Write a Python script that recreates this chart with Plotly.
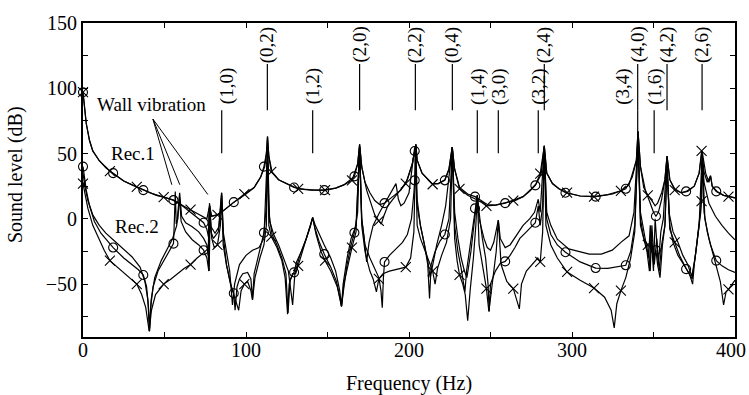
import plotly.graph_objects as go

# ---------------- data (frequency Hz, sound level dB) ----------------
REC1_CIRCLE = [
    (0, 97), (1, 84), (2, 73), (4, 60), (6, 52), (10, 44.5), (14, 39), (18.5, 35), (25, 29), (30, 26),
    (37, 22), (45, 18), (50, 16.5), (55.5, 14.3), (60, 11), (66, 5), (70, 1), (74, -3), (76, -8), (77, -14),
    (77.6, 12), (78.5, 2), (82, 3), (85, 5), (88, 8), (92.5, 12.8), (100, 19), (105, 24), (109, 32), (111, 40),
    (112.5, 50), (113.2, 63), (114, 48), (116, 36), (120, 30), (125, 27), (129.5, 24), (137, 22.5), (142, 22),
    (148, 22), (155, 23.5), (160, 26), (166.5, 32.5), (168.5, 42), (169.7, 57), (171, 40), (173, 28), (176, 20),
    (179, 14), (182, 11), (185, 12), (190, 17), (195, 22), (199, 30), (202, 42), (203.5, 52), (204.2, 57),
    (205, 45), (208, 35), (214, 27), (218, 27), (222, 29.5), (224.5, 38), (226.5, 55), (228, 38), (231, 24),
    (236, 19), (240.5, 17), (244, 14), (248, 11), (253, 10.5), (259, 12), (265, 14), (270, 17), (274, 21),
    (277.5, 25.6), (281, 34), (283, 56), (284.5, 35), (288, 27), (292, 23), (296, 20), (305, 17.5), (314.5, 17),
    (325, 19), (333, 23), (337, 32), (339.5, 45), (340.5, 67), (342, 40), (345, 22), (348, 12), (350, 5),
    (351.5, 2), (353, 5), (355, 15), (357, 30), (358.3, 48), (360, 30), (363, 23), (367, 20), (370, 21),
    (375, 25), (378, 35), (379.8, 52), (382, 35), (384, 28), (385, 33), (386, 25), (388.5, 21), (393, 18),
    (397, 17), (400, 16),
]

REC1_CROSS = [
    (0, 97), (1, 84), (2, 73), (4, 60), (6, 52), (10, 44.5), (16.5, 36.5), (25, 29), (33, 24.5), (41, 20),
    (49.5, 16.6), (55, 14.5), (60, 11), (66, 7), (72, 3), (76, 0), (77.6, 10), (79, 2), (82.5, 3), (88, 8),
    (93, 13), (99, 19), (105, 24), (109, 32), (111.5, 40), (112.5, 50), (113.2, 63), (114, 48), (115.5, 36),
    (120, 30), (125, 27), (132, 23), (140, 22), (148.5, 22), (155, 23.5), (160, 26), (165, 29.5), (168.5, 42),
    (169.7, 57), (171, 40), (174, 22), (177, 10), (179, 3), (181.5, -1.5), (183, -4), (184.5, 2), (187, 10),
    (192, 18), (198, 27), (202, 42), (203.5, 52), (204.2, 57), (205, 45), (208, 35), (214.5, 26.5), (218, 27),
    (222, 30), (224.5, 38), (226.5, 55), (228, 38), (231, 23), (236, 18), (241, 15), (244, 13), (247.5, 10),
    (253, 10.5), (259, 12), (264, 14), (270, 17), (275, 23), (278, 27), (280.5, 34.7), (283, 56), (284.5, 35),
    (288, 27), (292, 23), (297, 20), (305, 17.5), (313.5, 17), (322, 18.5), (330, 21.5), (335, 26),
    (339.5, 45), (340.5, 67), (342, 40), (344, 24), (346.5, 18), (349, 14), (351, 10), (352.5, 12), (355, 20),
    (357, 30), (358.3, 48), (360, 30), (363, 22), (367, 20), (371, 21), (375, 25), (378, 35), (379.5, 52),
    (381, 36), (383, 28), (385, 33), (386, 25), (389, 21), (393, 18), (396, 17), (400, 16),
]

REC2_CIRCLE = [
    (0, 40), (1, 30), (2, 22), (4, 10), (7, -2), (11, -11), (14.5, -16), (18.5, -22), (25, -30), (30, -35),
    (34, -39), (37, -43), (39, -52), (40.2, -68), (40.8, -86), (41.5, -68), (43, -52), (46, -40), (50, -31),
    (53, -25), (55.5, -19), (56.1, 0), (56.6, 21), (57.2, -4), (58.2, 0), (59.2, 17), (60.2, -2), (63, -10),
    (67, -16), (71, -20), (74, -24), (76, -30), (77.2, -40), (77.8, 10), (78.5, -6), (81, -11), (83.5, -6),
    (85.1, 20), (86.2, -15), (88, -35), (90.5, -50), (92.5, -57), (93.3, -70), (94.5, -52), (96, -46),
    (98, -42), (101, -41), (103, -46), (104, -62), (105, -42), (108, -26), (111, -10.6), (112.5, 10),
    (113.2, 55), (114, 5), (116, -12), (119, -20), (122, -30), (124.5, -42), (125.8, -72), (127, -47),
    (129.5, -41), (131, -33), (134, -25), (137, -15), (139.5, -6), (140.9, 1), (142.5, -8), (145, -18),
    (148, -27), (152, -37), (155.5, -48), (157.5, -60), (158.6, -67), (159.8, -55), (162, -35), (164.5, -20),
    (166.5, -10.6), (168.5, 5), (169.7, 55), (171, 0), (173, -20), (176, -30), (179, -38), (181.5, -45),
    (182.8, -55), (183.6, -68), (184.3, -45), (185, -33), (188, -28), (192, -23), (196, -18), (199, -12),
    (201.5, 0), (203, 20), (203.5, 29.5), (204.2, 57), (205, 15), (207, -5), (209.5, -20), (211.5, -35),
    (212.6, -61), (213.6, -35), (216, -25), (219, -17), (222, -12), (224.5, 0), (226.6, 55), (228, -5),
    (230, -25), (232, -38), (233.5, -50), (234.3, -56), (235.3, -40), (237.5, -20), (239.5, 0), (240.5, 8),
    (241.9, 18), (243, 5), (245, -15), (247, -30), (248.5, -50), (249.2, -71), (250, -50), (253, -40),
    (256, -34), (259, -32.6), (262, -28), (265, -22), (268, -15), (272, -10), (275, -6), (277.5, -3),
    (279.3, 10), (280.5, -5), (282, 10), (283, 55), (284.5, 0), (287, -12), (291, -20), (296, -25.6),
    (305, -33), (314.5, -37.7), (322, -38), (328, -37), (333, -35.6), (336, -25), (338.5, -5), (340.5, 60),
    (342, 0), (344, -15), (346, -25), (347.5, -40), (348.5, -10), (350, -30), (351.5, -24), (352.5, -35),
    (354, -45), (355.5, -20), (357, -5), (358.3, 40), (360, -5), (362, -18), (365, -28), (368, -34),
    (370, -38.5), (372, -42), (374, -50), (375, -35), (377, -15), (379, 5), (379.8, 45), (381, 5), (383, -10),
    (385, -20), (388.5, -32), (392, -36), (396, -39), (400, -41),
]

REC2_CROSS = [
    (0, 27), (1, 20), (3, 8), (6, -5), (10, -16), (13, -24), (16.5, -32), (22, -38), (27, -43), (33, -50),
    (36, -58), (38.5, -68), (40.6, -86), (42, -70), (44.5, -58), (49.5, -50), (54, -46), (58, -42), (62, -38),
    (66, -35), (70, -30), (74, -26), (76.6, -23), (77.4, -40), (78, 5), (79, -15), (80.5, -22), (82.5, -20),
    (84.3, -5), (85.1, 18), (86, -20), (88, -35), (91, -52), (93, -60), (95.5, -70), (97, -55), (99, -50),
    (101, -48), (103, -55), (104, -62), (105.5, -45), (108.5, -30), (111, -20), (112.5, -5), (113.2, 55),
    (114, -5), (115.5, -13.6), (119, -22), (122, -32), (124, -45), (125.5, -73), (126.5, -50), (128.5, -42),
    (130.5, -42), (132, -36), (135, -24), (138.5, -10), (140.9, 1), (143, -12), (146, -25), (148.5, -32),
    (152, -40), (156, -52), (158.6, -67), (160, -50), (162.5, -35), (165, -22), (167.5, -10), (169.7, 55),
    (171, -5), (173, -25), (174.5, -33), (176, -40), (178, -46), (180, -56), (181.5, -46), (184, -42),
    (188, -40), (192, -39), (195, -38), (198, -37), (201, -30), (203, -10), (204, 50), (205, -5), (207, -15),
    (210, -25), (213, -35), (214.5, -40), (216, -50), (217.5, -38), (220, -28), (223, -18), (225.5, 0),
    (226.6, 55), (228, -15), (229.5, -32), (231, -43), (233, -50), (234.5, -58), (236, -78), (237.5, -55),
    (239.5, -30), (241, -5), (241.9, 18), (243, -20), (245.5, -40), (247.5, -53.5), (249, -71), (251, -50),
    (253.5, -25), (254.8, -1), (256.5, -35), (260, -48), (264, -53.5), (267.7, -69), (269, -50), (272, -40),
    (276, -34), (279, -30), (280.5, -33), (282, -10), (283, 55), (284, -5), (287, -20), (291, -30),
    (297, -40.7), (305, -47), (313.5, -53), (320, -60), (324, -70), (325.9, -83.5), (327.5, -65), (330, -55),
    (333, -45), (336, -30), (338.5, -10), (340.5, 60), (342, -5), (344, -15), (346.5, -20), (348, -40),
    (349, -5), (350.5, -35), (352, -15), (353.5, -40), (355, -20), (357, -5), (358.3, 40), (360, -8),
    (363, -18), (366, -28), (370, -38), (373.7, -46), (376, -25), (378, -2), (379.5, 13.6), (380.2, 45),
    (381.5, 0), (384, -15), (388, -33), (391, -48), (393, -66), (394.5, -56), (396, -54), (400, -47),
]

REC2_PLAIN = [
    (0, 35), (1, 26), (3, 14), (6, 3), (10, -5), (14, -11), (18.5, -16), (25, -23), (30, -29), (35, -37),
    (38, -48), (39.8, -62), (40.8, -86), (41.8, -62), (44, -45), (48, -32), (52, -22), (55, -15), (57.5, -5),
    (59.3, 20), (60.5, 2), (63, -3), (67, -6), (71, -10), (74, -15), (76, -20), (76.8, -28), (77.4, 8),
    (78.5, -10), (80, -15), (83, -10), (85, 20), (86, -10), (88, -25), (90, -40), (91.7, -66), (93, -50),
    (96, -35), (100, -28), (104, -24), (108, -22), (111, -15), (113.2, 55), (114.5, -2), (117, -12),
    (120, -20), (123, -30), (126, -40), (128.6, -66), (130, -42), (133, -28), (137, -15), (139.5, -5),
    (140.9, 1), (142.5, -5), (145, -12), (148, -20), (152, -30), (155, -40), (157.5, -55), (158.6, -67),
    (159.6, -50), (162, -30), (164.5, -15), (167.5, -5), (169.7, 55), (171, 0), (172.5, -15), (174, -33),
    (175.5, -18), (178, -5), (182, 5), (186, 14), (190, 22), (192, 27), (193.5, 15), (195, 10), (197, 12),
    (200, 20), (203.5, 55), (205, 10), (207, -5), (209.5, -20), (211.5, -32), (213, -45), (214.5, -35),
    (217, -20), (220, -5), (222.5, 10), (226.6, 55), (228, 5), (230, -15), (232, -30), (234, -40),
    (235.5, -45), (238, -25), (240, -5), (241.9, 18), (243, 0), (246, -15), (248, -22), (250, -24),
    (252, -18), (254.8, -1), (256, -15), (259, -22), (262, -20), (266, -12), (270, -5), (274, 0), (277, 5),
    (279.3, 15), (280.5, 5), (283, 56), (284.5, 5), (287, -5), (291, -15.6), (298, -23), (310.6, -27),
    (318, -27), (324.7, -24), (330, -18), (335, -13), (338, 5), (340.5, 62), (342, 5), (344, -10), (347, -30),
    (348, -5), (350, -40), (351, 0), (353, -35), (354.5, -10), (356, 0), (358.3, 48), (359.5, 5), (362, -10),
    (365, -18), (368, -28), (371, -35), (373.5, -44), (375.5, -30), (378, -5), (379.8, 50), (381, 28),
    (384, 12), (388, 2), (392, -5), (396, -11), (400, -16),
]

# frequencies where the symbols sit on the circle / cross curves
CIRCLE_MARK_F = [0, 18.5, 37, 55.5, 74, 92.5, 111, 129.5, 148, 166.5, 185, 203.5, 222, 240.5, 259,
                 277.5, 296, 314.5, 333, 351.5, 370, 388.5]
CROSS_MARK_F = [0, 16.5, 33, 49.5, 66, 82.5, 99, 115.5, 132, 148.5, 165, 181.5, 198, 214.5, 231,
                247.5, 264, 280.5, 297, 313.5, 330, 346.5, 363, 379.5, 396]

# plate mode labels and their frequencies
MODE_UPPER = ["(0,2)", "(2,0)", "(2,2)", "(0,4)", "(2,4)", "(4,0)", "(4,2)", "(2,6)"]
MODE_UPPER_F = [113.1, 169.7, 203.9, 226.6, 283.0, 340.3, 358.3, 379.8]
MODE_LOWER = ["(1,0)", "(1,2)", "(1,4)", "(3,0)", "(3,2)", "(3,4)", "(1,6)"]
MODE_LOWER_F = [85.1, 140.9, 241.9, 254.8, 279.3, 340.3, 350.4]

X_TICKS = [0, 100, 200, 300, 400]
X_TICK_TEXT = ["0", "100", "200", "300", "400"]
Y_TICKS = [-50, 0, 50, 100, 150]

# ---------------- figure ----------------
FONT = "Liberation Serif"


def unzip(pts):
    pts = sorted(pts)
    return [p[0] for p in pts], [p[1] for p in pts]


def pick(pts, marks):
    f, v = unzip(pts)
    idx = [i for i, x in enumerate(f) if any(abs(x - m) < 1e-9 for m in marks)]
    return [f[i] for i in idx], [v[i] for i in idx]


fig = go.Figure()
for pts in (REC2_PLAIN, REC2_CROSS, REC2_CIRCLE, REC1_CROSS, REC1_CIRCLE):
    f, v = unzip(pts)
    fig.add_trace(go.Scatter(x=f, y=v, mode="lines", line=dict(color="black", width=1.2),
                             showlegend=False, hoverinfo="skip"))

for pts in (REC1_CIRCLE, REC2_CIRCLE):
    f, v = pick(pts, CIRCLE_MARK_F)
    fig.add_trace(go.Scatter(x=f, y=v, mode="markers", cliponaxis=False, showlegend=False,
                             marker=dict(symbol="circle-open", size=9, color="black",
                                         line=dict(width=1.1, color="black"))))
for pts in (REC1_CROSS, REC2_CROSS):
    f, v = pick(pts, CROSS_MARK_F)
    fig.add_trace(go.Scatter(x=f, y=v, mode="markers", cliponaxis=False, showlegend=False,
                             marker=dict(symbol="x-thin", size=10, color="black",
                                         line=dict(width=1.1, color="black"))))

shapes = []
annotations = []
LBL_FONT = dict(family=FONT, size=19, color="black")
TICK_FONT = dict(family=FONT, size=20, color="black")
for name, f in zip(MODE_UPPER, MODE_UPPER_F):
    shapes.append(dict(type="line", xref="x", yref="y", x0=f, x1=f, y0=83.2, y1=118.6,
                       line=dict(color="black", width=1.2)))
    annotations.append(dict(x=f, y=133.2, xref="x", yref="y", text=name, textangle=-90,
                            showarrow=False, font=LBL_FONT, xanchor="center", yanchor="middle"))
for name, f in zip(MODE_LOWER, MODE_LOWER_F):
    tx = f
    if name == "(3,4)":
        tx = 330.8
    if name == "(1,0)":
        tx = f + 3
    shapes.append(dict(type="line", xref="x", yref="y", x0=f, x1=f, y0=50.2, y1=83.2,
                       line=dict(color="black", width=1.2)))
    annotations.append(dict(x=tx, y=101.3, xref="x", yref="y", text=name, textangle=-90,
                            showarrow=False, font=LBL_FONT, xanchor="center", yanchor="middle"))

# x tick labels (drawn as text so the last one stays inside the page)
for val, txt in zip(X_TICKS, X_TICK_TEXT):
    annotations.append(dict(x=val, y=-0.0406, xref="x", yref="paper", text=txt, showarrow=False,
                            font=TICK_FONT, xanchor="center", yanchor="middle",
                            xshift=-4 if val == X_TICKS[-1] else 0))

# wall vibration pointers
for ex, ey in ((54.5, 26.1), (59.4, 26.1), (76.6, 18.6)):
    shapes.append(dict(type="line", xref="x", yref="y", x0=42.9, y0=76.4, x1=ex, y1=ey,
                       line=dict(color="black", width=1)))
annotations += [
    dict(x=42.3, y=87.7, xref="x", yref="y", text="Wall vibration", showarrow=False, font=LBL_FONT),
    dict(x=30.6, y=50.2, xref="x", yref="y", text="Rec.1", showarrow=False, font=LBL_FONT),
    dict(x=33.1, y=-6.2, xref="x", yref="y", text="Rec.2", showarrow=False, font=LBL_FONT),
    dict(x=0.5, y=-0.147, xref="paper", yref="paper", text="Frequency (Hz)", showarrow=False,
         font=TICK_FONT, xanchor="center", yanchor="middle"),
    dict(x=-0.1026, y=0.516, xref="paper", yref="paper", text="Sound level (dB)", textangle=-90,
         showarrow=False, font=TICK_FONT, xanchor="center", yanchor="middle"),
]

axis_common = dict(showline=True, linewidth=2, linecolor="black", mirror="ticks", ticks="inside",
                   ticklen=5, tickwidth=1, tickcolor="black", showgrid=False, zeroline=False,
                   tickfont=TICK_FONT)
fig.update_layout(
    width=749, height=395,
    margin=dict(l=83, r=13, t=17, b=58),
    paper_bgcolor="white", plot_bgcolor="white",
    xaxis=dict(range=[0, 400], tickvals=X_TICKS, showticklabels=False,
               minor=dict(tickvals=[50, 150, 250, 350], ticks="inside", ticklen=5, tickcolor="black"),
               **axis_common),
    yaxis=dict(range=[-90.5, 150], tickvals=Y_TICKS,
               minor=dict(tickvals=[-75, -25, 25, 75, 125], ticks="inside", ticklen=5, tickcolor="black"),
               **axis_common),
    shapes=shapes, annotations=annotations,
)
fig.write_html(
    "out.html", config={"displayModeBar": False},
    post_script=("document.documentElement.style.overflow='hidden';"
                 "document.body.style.overflow='hidden';"
                 "document.body.style.margin='0';document.body.style.padding='0';"),
)
